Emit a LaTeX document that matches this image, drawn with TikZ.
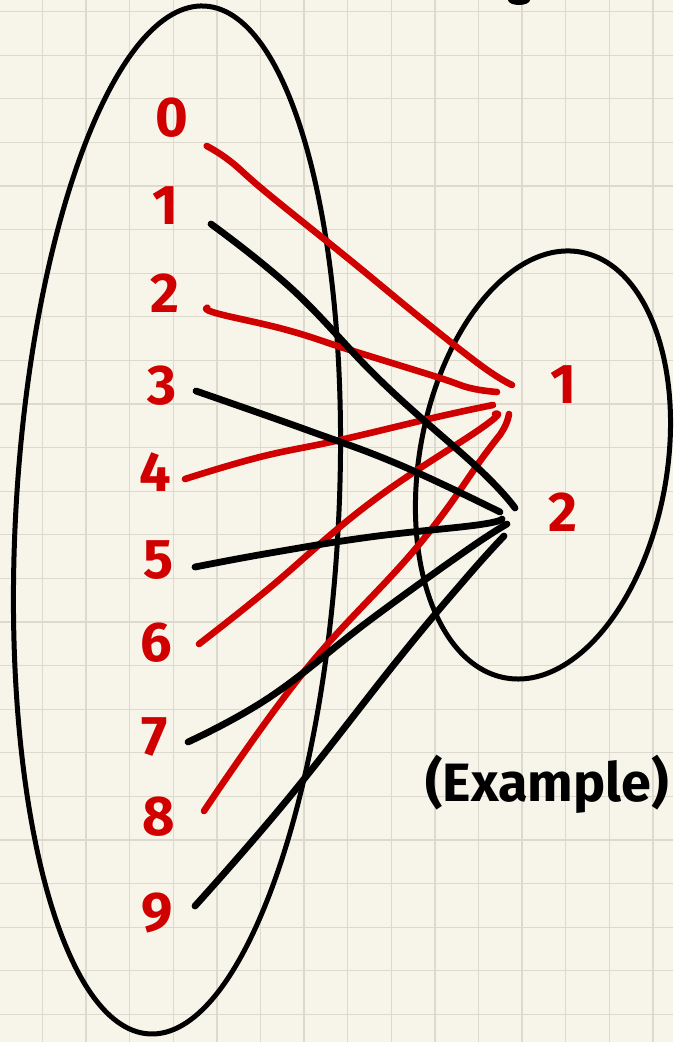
\documentclass[tikz,border=0pt]{standalone}
\usepackage{fontspec}
\setmainfont{Fira Sans}
\definecolor{paper}{RGB}{247,245,233}
\definecolor{gridc}{RGB}{220,218,206}
\definecolor{pen}{RGB}{208,0,0}
\begin{document}
\begin{tikzpicture}[x=1pt,y=-1pt,
  redline/.style={draw=pen, line width=6.6pt, line cap=round, line join=round},
  blackline/.style={draw=black, line width=6.8pt, line cap=round, line join=round},
  setline/.style={draw=black, line width=5pt},
  lab/.style={text=pen, font=\fontsize{56}{64}\selectfont\bfseries, inner sep=0pt},
  note/.style={text=black, font=\fontsize{54}{64}\selectfont\bfseries, inner sep=0pt},
  gridline/.style={draw=gridc, line width=1.3pt}]
\useasboundingbox (0,0) rectangle (673,1042);
\begin{scope}
\clip (0,0) rectangle (673,1042);
\fill[paper] (0,0) rectangle (673,1042);
\foreach \i in {0,...,14} \draw[gridline] ({42.5+43.6*\i},0) -- ({42.5+43.6*\i},1042);
\foreach \j in {0,...,23} \draw[gridline] (0,{11.6+43.6*\j}) -- (673,{11.6+43.6*\j});
\fill (519,0) ellipse [x radius=11pt, y radius=5pt];
\end{scope}

% sets
\coordinate (A) at (177,520);
\coordinate (B) at (543,465);
\draw[setline, rotate around={-3.09:(A)}] (A) ellipse [x radius=161.4pt, y radius=514.7pt];
\draw[setline, rotate around={-9.95:(B)}] (B) ellipse [x radius=123.8pt, y radius=216.2pt];

% labels
\node[lab] (l0) at (171.7,118) {0};
\node[lab] (l1) at (165.7,206) {1};
\node[lab] (l2) at (165,293) {2};
\node[lab] (l3) at (161.7,386) {3};
\node[lab] (l4) at (155,472) {4};
\node[lab] (l5) at (158.3,560) {5};
\node[lab] (l6) at (156.7,643) {6};
\node[lab] (l7) at (155,737) {7};
\node[lab] (l8) at (158.3,817) {8};
\node[lab] (l9) at (156.7,913) {9};
\node[lab] (m1) at (563,385) {1};
\node[lab] (m2) at (563,512) {2};
\node[note] (ex) at (547,784) {(Example)};

% connector ends
\coordinate (s0) at (206.7,146);  \coordinate (e0) at (512,385);
\coordinate (s1) at (211,224);    \coordinate (e1) at (515,508);
\coordinate (s2) at (207.3,307.7);\coordinate (e2) at (497,392);
\coordinate (s3) at (196,391);    \coordinate (e3) at (500,512);
\coordinate (s4) at (185,479);    \coordinate (e4) at (493,405);
\coordinate (s5) at (195,567);    \coordinate (e5) at (502,519);
\coordinate (s6) at (199,644);    \coordinate (e6) at (495,414);
\coordinate (s7) at (188,742);    \coordinate (e7) at (507,524);
\coordinate (s8) at (204,811);    \coordinate (e8) at (509,414);
\coordinate (s9) at (195,906);    \coordinate (e9) at (504,536);

% red connectors (to 1)
\draw[redline] plot[smooth, tension=0.7] coordinates {(s0) (230,161) (267,193) (350,260) (423,320) (483,367) (e0)};
\draw[redline] plot[smooth, tension=0.7] coordinates {(s2) (216.7,313.3) (287,330) (350,350) (437,377) (470,388) (e2)};
\draw[redline] plot[smooth, tension=0.7] coordinates {(s4) (260,457) (340,440) (437,417) (e4)};
\draw[redline] plot[smooth, tension=0.7] coordinates {(s6) (267,590) (370,503) (483,427) (e6)};
\draw[redline] plot[smooth, tension=0.7] coordinates {(s8) (303,673) (417,547) (483,457) (503,430) (e8)};

% black connectors (to 2)
\draw[blackline] plot[smooth, tension=0.7] coordinates {(s1) (293,290) (383,383) (480,470) (e1)};
\draw[blackline] plot[smooth, tension=0.7] coordinates {(s3) (307,430) (400,465) (e3)};
\draw[blackline] plot[smooth, tension=0.7] coordinates {(s5) (270,553) (370,537) (477,525) (e5)};
\draw[blackline] plot[smooth, tension=0.7] coordinates {(s7) (270,697) (370,620) (467,550) (e7)};
\draw[blackline] plot[smooth, tension=0.7] coordinates {(s9) (287,800) (400,657) (467,577) (e9)};
\end{tikzpicture}
\end{document}
